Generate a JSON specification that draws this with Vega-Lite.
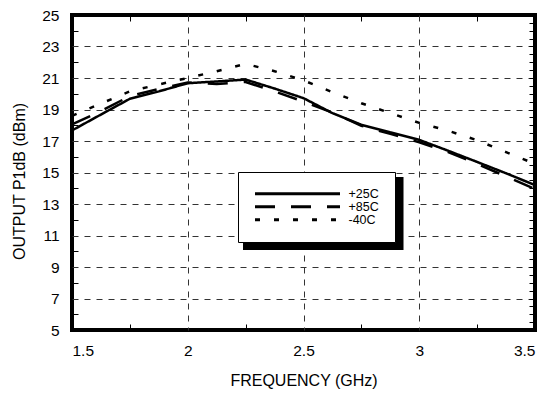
{
  "$schema": "https://vega.github.io/schema/vega-lite/v6.json",
  "width": 463,
  "height": 315,
  "autosize": {"type": "none"},
  "padding": {"left": 72, "top": 15, "right": 19, "bottom": 67},
  "background": "white",
  "config": {
    "view": {"stroke": "black", "strokeWidth": 4},
    "font": "Liberation Sans",
    "axis": {
      "labelFont": "Liberation Sans",
      "titleFont": "Liberation Sans",
      "labelColor": "black",
      "titleColor": "black",
      "labelFontSize": 15.5,
      "titleFontSize": 16,
      "titleFontWeight": "normal",
      "domain": false,
      "tickColor": "black",
      "tickWidth": 1
    }
  },
  "layer": [
    {
      "data": {"values": [{"part": "legend shadow"}]},
      "mark": {"type": "rect", "color": "black"},
      "encoding": {
        "x": {
          "datum": 2.2387,
          "type": "quantitative",
          "scale": {"domain": [1.5, 3.5], "nice": false, "zero": false},
          "axis": {"orient": "top", "values": [1.75, 2.25, 2.75, 3.25], "labels": false, "grid": false, "ticks": true, "tickSize": -6, "title": null}
        },
        "x2": {"datum": 2.932},
        "y": {
          "datum": 14.71,
          "type": "quantitative",
          "scale": {"domain": [5, 25], "nice": false, "zero": false},
          "axis": {"orient": "right", "values": [5.5, 6, 6.5, 7, 7.5, 8, 8.5, 9, 9.5, 10, 10.5, 11, 11.5, 12, 12.5, 13, 13.5, 14, 14.5, 15, 15.5, 16, 16.5, 17, 17.5, 18, 18.5, 19, 19.5, 20, 20.5, 21, 21.5, 22, 22.5, 23, 23.5, 24, 24.5], "labels": false, "grid": false, "ticks": true, "tickSize": -6, "title": null}
        },
        "y2": {"datum": 10.08}
      }
    },
    {
      "data": {
        "values": [
          {"freq": 1.5, "temp": "+25C", "p1db": 17.67},
          {"freq": 1.625, "temp": "+25C", "p1db": 18.68},
          {"freq": 1.75, "temp": "+25C", "p1db": 19.68},
          {"freq": 1.875, "temp": "+25C", "p1db": 20.15},
          {"freq": 2.0, "temp": "+25C", "p1db": 20.67},
          {"freq": 2.125, "temp": "+25C", "p1db": 20.78},
          {"freq": 2.25, "temp": "+25C", "p1db": 20.9},
          {"freq": 2.375, "temp": "+25C", "p1db": 20.33},
          {"freq": 2.5, "temp": "+25C", "p1db": 19.72},
          {"freq": 2.625, "temp": "+25C", "p1db": 18.77},
          {"freq": 2.75, "temp": "+25C", "p1db": 18.03},
          {"freq": 2.875, "temp": "+25C", "p1db": 17.55},
          {"freq": 3.0, "temp": "+25C", "p1db": 17.07},
          {"freq": 3.125, "temp": "+25C", "p1db": 16.38},
          {"freq": 3.25, "temp": "+25C", "p1db": 15.67},
          {"freq": 3.375, "temp": "+25C", "p1db": 14.95},
          {"freq": 3.5, "temp": "+25C", "p1db": 14.2},
          {"freq": 1.5, "temp": "+85C", "p1db": 18.05},
          {"freq": 1.625, "temp": "+85C", "p1db": 18.9},
          {"freq": 1.75, "temp": "+85C", "p1db": 19.85},
          {"freq": 1.875, "temp": "+85C", "p1db": 20.3},
          {"freq": 2.0, "temp": "+85C", "p1db": 20.72},
          {"freq": 2.125, "temp": "+85C", "p1db": 20.62},
          {"freq": 2.25, "temp": "+85C", "p1db": 20.75},
          {"freq": 2.375, "temp": "+85C", "p1db": 20.15},
          {"freq": 2.5, "temp": "+85C", "p1db": 19.5},
          {"freq": 2.625, "temp": "+85C", "p1db": 18.8},
          {"freq": 2.75, "temp": "+85C", "p1db": 17.97},
          {"freq": 2.875, "temp": "+85C", "p1db": 17.45},
          {"freq": 3.0, "temp": "+85C", "p1db": 16.92},
          {"freq": 3.125, "temp": "+85C", "p1db": 16.3},
          {"freq": 3.25, "temp": "+85C", "p1db": 15.55},
          {"freq": 3.375, "temp": "+85C", "p1db": 14.75},
          {"freq": 3.5, "temp": "+85C", "p1db": 13.95},
          {"freq": 1.5, "temp": "-40C", "p1db": 18.6},
          {"freq": 1.625, "temp": "-40C", "p1db": 19.38},
          {"freq": 1.75, "temp": "-40C", "p1db": 20.15},
          {"freq": 1.875, "temp": "-40C", "p1db": 20.59},
          {"freq": 2.0, "temp": "-40C", "p1db": 21.0},
          {"freq": 2.125, "temp": "-40C", "p1db": 21.43},
          {"freq": 2.25, "temp": "-40C", "p1db": 21.9},
          {"freq": 2.375, "temp": "-40C", "p1db": 21.43},
          {"freq": 2.5, "temp": "-40C", "p1db": 20.85},
          {"freq": 2.625, "temp": "-40C", "p1db": 20.1},
          {"freq": 2.75, "temp": "-40C", "p1db": 19.4},
          {"freq": 2.875, "temp": "-40C", "p1db": 18.77},
          {"freq": 3.0, "temp": "-40C", "p1db": 18.15},
          {"freq": 3.125, "temp": "-40C", "p1db": 17.65},
          {"freq": 3.25, "temp": "-40C", "p1db": 17.05},
          {"freq": 3.375, "temp": "-40C", "p1db": 16.29},
          {"freq": 3.5, "temp": "-40C", "p1db": 15.55}
        ]
      },
      "mark": {"type": "line", "color": "black", "strokeWidth": 2.5},
      "encoding": {
        "x": {
          "field": "freq",
          "type": "quantitative",
          "scale": {"domain": [1.5, 3.5], "nice": false, "zero": false},
          "axis": {
            "orient": "bottom",
            "values": [1.5, 1.75, 2, 2.25, 2.5, 2.75, 3, 3.25, 3.5],
            "labelExpr": "(datum.value*4)%2==0 ? format(datum.value,'~g') : ''",
            "grid": true,
            "ticks": true,
            "gridOpacity": {"condition": {"test": "(datum.value*4)%2==1 || datum.value<=1.5 || datum.value>=3.5", "value": 0}, "value": 1},
            "gridDash": [6, 6],
            "gridColor": "#333",
            "gridWidth": 1,
            "tickOpacity": {"condition": {"test": "(datum.value*4)%2==1", "value": 1}, "value": 0},
            "tickSize": -6,
            "labelPadding": 19,
            "title": "FREQUENCY (GHz)",
            "titlePadding": 14
          }
        },
        "y": {
          "field": "p1db",
          "type": "quantitative",
          "scale": {"domain": [5, 25], "nice": false, "zero": false},
          "axis": {
            "orient": "left",
            "values": [5, 6, 7, 8, 9, 10, 11, 12, 13, 14, 15, 16, 17, 18, 19, 20, 21, 22, 23, 24, 25],
            "labelExpr": "datum.value%2==1 ? datum.label : ''",
            "grid": true,
            "ticks": true,
            "gridOpacity": {"condition": {"test": "datum.value%2==0 || datum.value<=5 || datum.value>=25", "value": 0}, "value": 1},
            "gridDash": [6, 6],
            "gridColor": "#333",
            "gridWidth": 1,
            "tickOpacity": {"condition": {"test": "datum.value%2==0", "value": 1}, "value": 0},
            "tickSize": -6,
            "labelPadding": 19,
            "title": "OUTPUT P1dB (dBm)",
            "titleX": -53,
            "titleY": 166,
            "titleAngle": -90,
            "titleAlign": "center",
            "titleBaseline": "middle"
          }
        },
        "strokeDash": {
          "field": "temp",
          "type": "nominal",
          "scale": {"domain": ["+25C", "+85C", "-40C"], "range": [[1, 0], [20, 16], [5, 14]]},
          "legend": {
            "orient": "none",
            "legendX": 166,
            "legendY": 157,
            "title": null,
            "fillColor": "white",
            "strokeColor": "black",
            "padding": 15.5,
            "symbolType": "stroke",
            "symbolSize": 7225,
            "symbolStrokeWidth": 3,
            "symbolStrokeColor": "black",
            "labelFont": "Liberation Sans",
            "labelFontSize": 12.5,
            "labelColor": "black",
            "labelOffset": 7,
            "clipHeight": 12.5,
            "rowPadding": -1.5
          }
        }
      }
    }
  ],
  "resolve": {"axis": {"x": "independent", "y": "independent"}}
}
